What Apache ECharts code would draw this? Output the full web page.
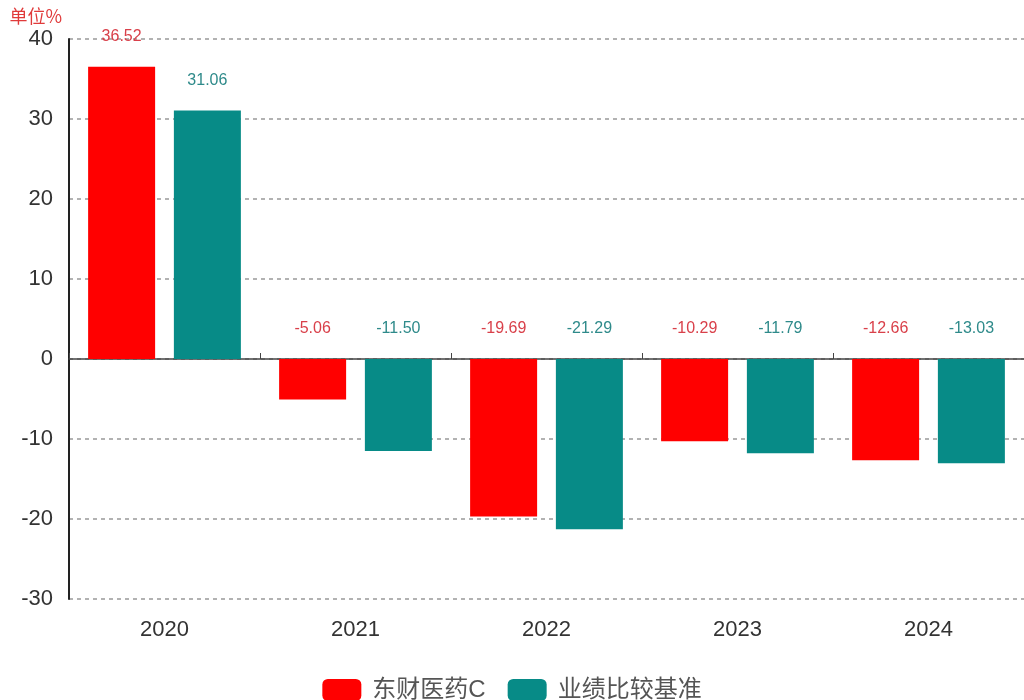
<!DOCTYPE html>
<html>
<head>
<meta charset="utf-8">
<script src="https://cdn.jsdelivr.net/npm/echarts@6/dist/echarts.min.js"></script>
<style>html,body{margin:0;padding:0;background:#fff;}#c{width:1024px;height:700px;}</style>
</head>
<body>
<div id="c"></div>
<script>
var categories = ['2020', '2021', '2022', '2023', '2024'];
var fundValues = [36.52, -5.06, -19.69, -10.29, -12.66];
var benchValues = [31.06, -11.50, -21.29, -11.79, -13.03];
var seriesNames = ['东财医药C', '业绩比较基准'];
var yTicks = { min: -30, max: 40, interval: 10 };

var chart = echarts.init(document.getElementById('c'));
var font = '"Liberation Sans", Arial, "Noto Sans CJK SC", sans-serif';
chart.setOption({
  animation: false,
  textStyle: { fontFamily: font },
  grid: { left: 69, right: -5, top: 39, bottom: 101, containLabel: false },
  legend: {
    data: seriesNames,
    top: 673,
    left: 'center',
    itemWidth: 39,
    itemHeight: 22,
    itemGap: 22,
    icon: 'roundRect',
    textStyle: { fontSize: 24, color: '#555', padding: [0, 0, 0, 6], fontFamily: font }
  },
  xAxis: [
    {
      type: 'category',
      data: categories,
      position: 'bottom',
      axisLine: { show: false, onZero: false },
      axisTick: { show: false },
      axisLabel: { fontSize: 22, color: '#333', margin: 20 },
      splitLine: { show: false }
    },
    {
      type: 'category',
      data: categories,
      position: 'top',
      axisLine: { show: true, onZero: true, lineStyle: { color: '#444', width: 1.5 } },
      axisTick: { show: true, length: 6, lineStyle: { color: '#444' } },
      axisLabel: { show: false },
      splitLine: { show: false }
    }
  ],
  yAxis: {
    type: 'value',
    min: yTicks.min,
    max: yTicks.max,
    interval: yTicks.interval,
    name: '单位%',
    nameGap: 14,
    nameTextStyle: { color: '#e03a3a', fontSize: 18, align: 'right', padding: [0, 7, 0, 0], fontFamily: '"Noto Sans CJK SC", sans-serif' },
    axisLine: { show: true, onZero: false, lineStyle: { color: '#222', width: 2 } },
    axisTick: { show: false },
    axisLabel: { fontSize: 22, color: '#333', margin: 16 },
    splitLine: { show: true, lineStyle: { color: '#999', type: [4, 4], width: 1.5 } }
  },
  series: [
    {
      name: seriesNames[0],
      type: 'bar',
      xAxisIndex: 0,
      data: fundValues,
      barWidth: 67,
      barGap: '28%',
      itemStyle: { color: '#ff0000' },
      label: { show: true, position: 'top', distance: 22, fontSize: 16, color: '#d9404a', formatter: function (p) { return p.value.toFixed(2); } }
    },
    {
      name: seriesNames[1],
      type: 'bar',
      xAxisIndex: 0,
      data: benchValues,
      barWidth: 67,
      barGap: '28%',
      itemStyle: { color: '#078b87' },
      label: { show: true, position: 'top', distance: 22, fontSize: 16, color: '#2e8a8a', formatter: function (p) { return p.value.toFixed(2); } }
    }
  ]
});
</script>
</body>
</html>
